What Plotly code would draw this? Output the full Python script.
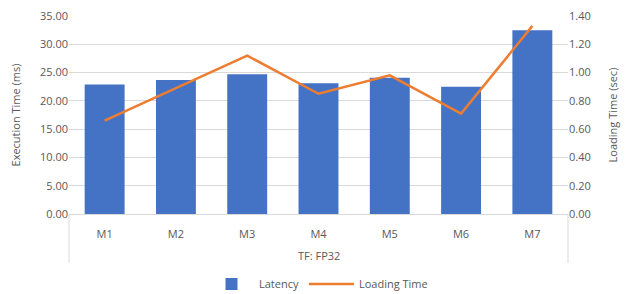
import plotly.graph_objects as go

group_label = "TF: FP32"
models = ["M1", "M2", "M3", "M4", "M5", "M6", "M7"]
latency = [22.9, 23.7, 24.7, 23.1, 24.1, 22.5, 32.5]
loading_time = [0.66, 0.89, 1.12, 0.85, 0.98, 0.71, 1.33]
left_ticks = [0, 5, 10, 15, 20, 25, 30, 35]
right_ticks = [0, 0.2, 0.4, 0.6, 0.8, 1.0, 1.2, 1.4]

txt = "#595959"
grid = "#d9d9d9"
font = dict(family="Open Sans, Liberation Sans, sans-serif", size=11, color=txt)

# page body has an 8px default margin, so the figure is drawn 8px in from the corner
W, H = 622, 286
ML, MR, MT, MB = 61, 62, 8, 80
plot_h = H - MT - MB

fig = go.Figure()
fig.add_trace(go.Bar(x=models, y=latency, name="Latency",
                     marker=dict(color="#4472C4", line=dict(width=0))))
fig.add_trace(go.Scatter(x=models, y=loading_time, name="Loading Time",
                         mode="lines", line=dict(color="#ED7D31", width=2.5),
                         yaxis="y2", cliponaxis=False))

# group label and dividers of the category axis
fig.add_annotation(text=group_label, xref="paper", yref="paper", x=0.5, y=-41 / plot_h,
                   showarrow=False, yanchor="middle", font=dict(size=11, color=txt))
for xp in (0, 1):
    fig.add_shape(type="line", xref="paper", yref="paper", x0=xp, x1=xp,
                  y0=0, y1=-49 / plot_h, line=dict(color=grid, width=1))

fig.update_layout(
    width=W, height=H,
    margin=dict(l=ML, r=MR, t=MT, b=MB, autoexpand=False),
    paper_bgcolor="white", plot_bgcolor="white",
    font=font,
    bargap=0.44,
    showlegend=True,
    legend=dict(orientation="h", x=0.5, xanchor="center",
                yref="container", y=0.035, yanchor="middle",
                font=dict(size=11, color=txt), itemwidth=45),
    xaxis=dict(type="category", showline=True, linecolor=grid, linewidth=1,
               tickfont=dict(size=11, color=txt), ticks="", ticklabelstandoff=10),
    yaxis=dict(range=[0, 35], tickvals=left_ticks,
               ticktext=[f"{v:.2f}" for v in left_ticks],
               showgrid=True, gridcolor=grid, gridwidth=1, zeroline=False,
               ticklabeloverflow="allow",
               title=dict(text="Execution Time (ms)", font=dict(size=11, color=txt), standoff=17),
               tickfont=dict(size=11, color=txt)),
    yaxis2=dict(range=[0, 1.4], tickvals=right_ticks,
                ticktext=[f"{v:.2f}" for v in right_ticks],
                overlaying="y", side="right", showgrid=False, zeroline=False,
                ticklabeloverflow="allow",
                title=dict(text="Loading Time (sec)", font=dict(size=11, color=txt), standoff=19),
                tickfont=dict(size=11, color=txt)),
)

fig.write_html("out.html")
